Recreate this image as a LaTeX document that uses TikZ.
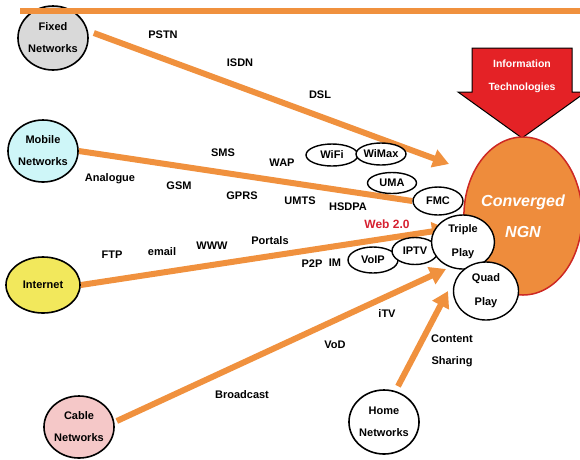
\documentclass[tikz,border=0pt]{standalone}
\usepackage{fontspec}
\setmainfont{Liberation Sans}
\usetikzlibrary{shapes.geometric,arrows.meta,backgrounds}
\definecolor{org}{RGB}{240,145,62}
\definecolor{ngnfill}{RGB}{238,140,60}
\definecolor{ngnline}{RGB}{205,40,35}
\definecolor{itred}{RGB}{228,34,38}
\definecolor{webred}{RGB}{214,32,48}
\definecolor{fixfill}{RGB}{217,217,217}
\definecolor{mobfill}{RGB}{206,246,248}
\definecolor{inetfill}{RGB}{242,232,92}
\definecolor{cabfill}{RGB}{245,200,200}
\tikzset{
  netnode/.style={ellipse, draw=black, line width=1.6pt, inner sep=0pt, align=center,
    font=\bfseries\fontsize{11}{22}\selectfont},
  technode/.style={ellipse, draw=black, line width=1.4pt, fill=white, inner sep=0pt, align=center,
    font=\bfseries\fontsize{11}{24}\selectfont},
  lbl/.style={inner sep=0pt, font=\bfseries\fontsize{11}{22}\selectfont, align=center},
  flow/.style={draw=org, line width=6pt},
  flowarr/.style={flow, -{Triangle[length=16pt,width=18pt]}},
}
\begin{document}
\begin{tikzpicture}[x=1pt,y=-1pt]
\useasboundingbox (0,0) rectangle (580,459);

% source networks
\node[netnode, fill=fixfill, minimum width=70pt, minimum height=64pt] (fixed) at (53,38) {Fixed\\Networks};
\node[netnode, fill=mobfill, minimum width=70pt, minimum height=62pt] (mobile) at (43,151) {Mobile\\Networks};
\node[netnode, fill=inetfill, minimum width=74pt, minimum height=56pt] (inet) at (43,285) {Internet};
\node[netnode, fill=cabfill, minimum width=68pt, minimum height=62pt] (cable) at (79,427) {Cable\\Networks};
\node[netnode, fill=white, minimum width=68pt, minimum height=64pt] (home) at (384,422) {Home\\Networks};

% converged NGN
\node[ellipse, draw=ngnline, line width=1.5pt, fill=ngnfill, minimum width=112pt, minimum height=158pt,
  inner sep=0pt, align=center, text=white, font=\bfseries\itshape\fontsize{16}{31}\selectfont] (ngn) at (523,216) {Converged\\NGN};

% Information Technologies arrow
\node[inner sep=0pt, align=center, text=white, font=\bfseries\fontsize{10.5}{23}\selectfont] (it) at (522,76) {Information\\Technologies};
\begin{scope}[on background layer]
\draw[fill=itred, draw=black, line width=1pt, line join=miter]
  (472,48) -- (572,48) -- (572,92) -- (586,92) -- (522,138) -- (458,92) -- (472,92) -- cycle;
\end{scope}

% technology ellipses
\node[technode, minimum width=52pt, minimum height=22pt] (wifi) at (332,155) {WiFi};
\node[technode, minimum width=50pt, minimum height=22pt] (wimax) at (381,154) {WiMax};
\node[technode, minimum width=49pt, minimum height=21pt] (uma) at (392,183) {UMA};
\node[technode, minimum width=50pt, minimum height=28pt] (fmc) at (438,201) {FMC};
\node[technode, minimum width=50pt, minimum height=26pt] (voip) at (373,260) {VoIP};
\node[technode, minimum width=46pt, minimum height=27pt] (iptv) at (415,251) {IPTV};
\node[technode, minimum width=63pt, minimum height=54pt] (triple) at (463,242) {Triple\\Play};
\node[technode, minimum width=65pt, minimum height=58pt] (quad) at (486,291) {Quad\\Play};

% arrow end points
\coordinate (tipF) at (449,164);
\coordinate (tipI) at (448,229);
\coordinate (tipC) at (446,269);
\coordinate (tipH) at (448,291);
\coordinate (topL) at (20,11);
\coordinate (topR) at (580,11);

\begin{scope}[on background layer]
\draw[flowarr] ([shift={(5,-5)}]fixed.east) -- (tipF);
\draw[flow] (mobile.east) -- (fmc.west);
\draw[flowarr] (inet.east) -- (tipI);
\draw[flowarr] ([shift={(2,-6)}]cable.east) -- (tipC);
\draw[flowarr] ([shift={(14,-3)}]home.north) -- (tipH);
\end{scope}
\draw[flow] (topL) -- (topR);

% labels
\node[lbl] (pstn) at (163,35) {PSTN};
\node[lbl] (isdn) at (240,63) {ISDN};
\node[lbl] (dsl) at (320,95) {DSL};
\node[lbl] (sms) at (223,153) {SMS};
\node[lbl] (wap) at (282,163) {WAP};
\node[lbl] (analogue) at (110,179) {Analogue};
\node[lbl] (gsm) at (179,186) {GSM};
\node[lbl] (gprs) at (242,196) {GPRS};
\node[lbl] (umts) at (300,201) {UMTS};
\node[lbl] (hsdpa) at (348,207) {HSDPA};
\node[lbl, text=webred, font=\bfseries\fontsize{12}{14}\selectfont] (web) at (387,224) {Web 2.0};
\node[lbl] (ftp) at (112,255) {FTP};
\node[lbl] (email) at (162,252) {email};
\node[lbl] (www) at (212,246) {WWW};
\node[lbl] (portals) at (270,241) {Portals};
\node[lbl] (p2p) at (312,264) {P2P};
\node[lbl] (im) at (335,263) {IM};
\node[lbl] (itv) at (387,314) {iTV};
\node[lbl] (vod) at (335,345) {VoD};
\node[lbl] (content) at (452,351) {Content\\Sharing};
\node[lbl] (broadcast) at (242,395) {Broadcast};
\end{tikzpicture}
\end{document}
